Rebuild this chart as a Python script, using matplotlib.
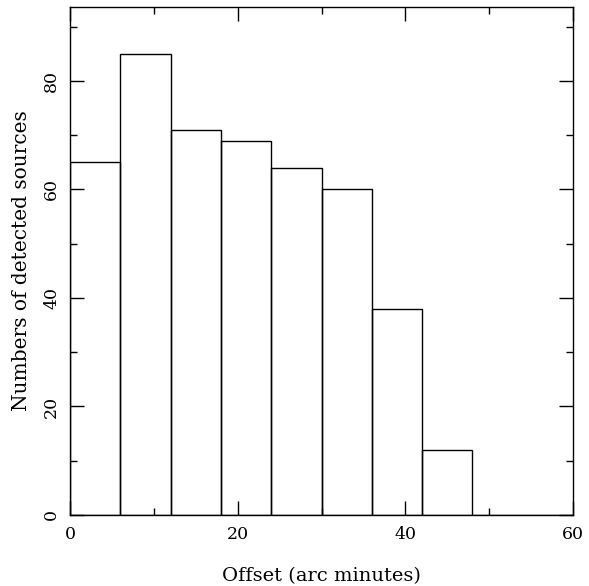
import numpy as np
import matplotlib
matplotlib.use("Agg")
import matplotlib.pyplot as plt
from matplotlib.ticker import MultipleLocator

# histogram of detected sources vs. offset
bin_edges = [0, 6, 12, 18, 24, 30, 36, 42, 48, 54, 60]
counts = [65, 85, 71, 69, 64, 60, 38, 12, 0, 0]

plt.rcParams['font.family'] = ['DejaVu Serif']

fig = plt.figure(figsize=(5.89, 5.86), dpi=100)
ax = fig.add_axes([70 / 589, 71 / 586, 503 / 589, 508 / 586])

lefts = np.array(bin_edges[:-1])
widths = np.diff(bin_edges)
ax.bar(lefts, counts, width=widths, align='edge', fill=False,
       edgecolor='black', linewidth=1.0)

ax.set_xlim(0, 60)
ax.set_ylim(0, 93.6)
ax.xaxis.set_major_locator(MultipleLocator(20))
ax.xaxis.set_minor_locator(MultipleLocator(10))
ax.yaxis.set_major_locator(MultipleLocator(20))
ax.yaxis.set_minor_locator(MultipleLocator(10))
ax.tick_params(which='both', direction='in', top=True, right=True,
               width=1.0, labelsize=12.5, colors='black')
ax.tick_params(which='major', length=10)
ax.tick_params(axis='x', which='major', pad=8)
ax.tick_params(axis='y', which='major', pad=7)
ax.tick_params(which='minor', length=5)
for lbl in ax.get_yticklabels():
    lbl.set_rotation(90)
    lbl.set_va('center')
for sp in ax.spines.values():
    sp.set_linewidth(1.0)

ax.set_xlabel('Offset (arc minutes)', fontsize=14, labelpad=17)
ax.set_ylabel('Numbers of detected sources', fontsize=14.5, labelpad=9)

fig.savefig('out.png', dpi=100)
